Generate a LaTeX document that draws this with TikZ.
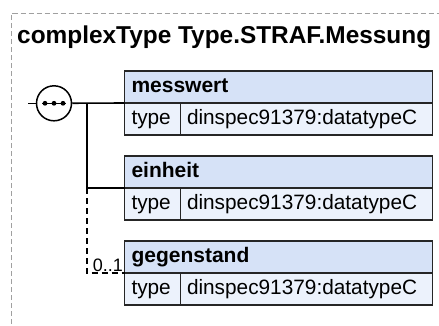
\documentclass[tikz,border=0pt]{standalone}
\usepackage{fontspec}
\setmainfont{Liberation Sans}
\usepackage{xcolor}
\usetikzlibrary{positioning}
\definecolor{hdrblue}{RGB}{214,226,247}
\definecolor{rowblue}{RGB}{236,242,252}
\definecolor{framegray}{RGB}{160,160,160}

\begin{document}
\begin{tikzpicture}[
  x=1pt, y=-1pt,
  cell/.style={draw=black!85, line width=1.4pt, outer sep=0pt, inner xsep=7pt, inner ysep=0pt,
    text height=21.2pt, text depth=10.8pt, align=left, font=\fontsize{20.8}{24}\selectfont},
  head/.style={cell, fill=hdrblue, text width=294pt, font=\fontsize{21}{24}\selectfont\bfseries},
  key/.style={cell, fill=rowblue, text width=42pt},
  val/.style={cell, fill=rowblue, text width=239pt, inner xsep=6.5pt},
  seqcirc/.style={draw, circle, fill=white, line width=1.5pt, minimum size=35pt, inner sep=0pt},
  card/.style={inner sep=1.5pt, font=\fontsize{18}{21}\selectfont},
  wire/.style={line width=1.6pt},
  optwire/.style={wire, dash pattern=on 6pt off 4pt}
]
\path[use as bounding box, clip] (0,0) rectangle (439,325);
% outer frame
\draw[framegray, line width=1pt, dash pattern=on 5pt off 3pt] (11,340) -- (11,13.5) -- (450,13.5);
\node[anchor=base west, inner sep=0pt, font=\fontsize{24.4}{28}\selectfont\bfseries] (title) at (17,43.3)
  {complexType Type.STRAF.Messung};

% elements
\node[head, anchor=north west] (messwert) at (124.5,71) {messwert};
\node[key, below right=0pt and 0pt of messwert.south west] (messwertkey) {type};
\node[val, right=0pt of messwertkey] (messwertval) {dinspec91379:datatypeC};

\node[head, below right=21pt and 0pt of messwertkey.south west] (einheit) {einheit};
\node[key, below right=0pt and 0pt of einheit.south west] (einheitkey) {type};
\node[val, right=0pt of einheitkey] (einheitval) {dinspec91379:datatypeC};

\node[head, below right=21pt and 0pt of einheitkey.south west] (gegenstand) {gegenstand};
\node[key, below right=0pt and 0pt of gegenstand.south west] (gegenstandkey) {type};
\node[val, right=0pt of gegenstandkey] (gegenstandval) {dinspec91379:datatypeC};

% sequence
\node[seqcirc] (seq) at (54,103.3) {};
\draw[line width=1.2pt] ([xshift=-12pt]seq.center) -- ([xshift=12pt]seq.center);
\foreach \dx in {-9,0,9} \fill ([xshift=\dx pt]seq.center) circle[radius=2.4pt];
\coordinate (stub) at (28,103.3);
\coordinate (fork) at (86.7,103.3);
\draw[wire] (stub) -- (seq);
\draw[wire] (seq) -- (messwert.south west);
\draw[wire] (fork) |- (einheit.south west);
\draw[optwire] (fork |- einheit.south west) |- (gegenstand.south west);
\node[card, anchor=south east] (gegenstandcard) at (gegenstand.south west) {0..1};
\end{tikzpicture}
\end{document}
